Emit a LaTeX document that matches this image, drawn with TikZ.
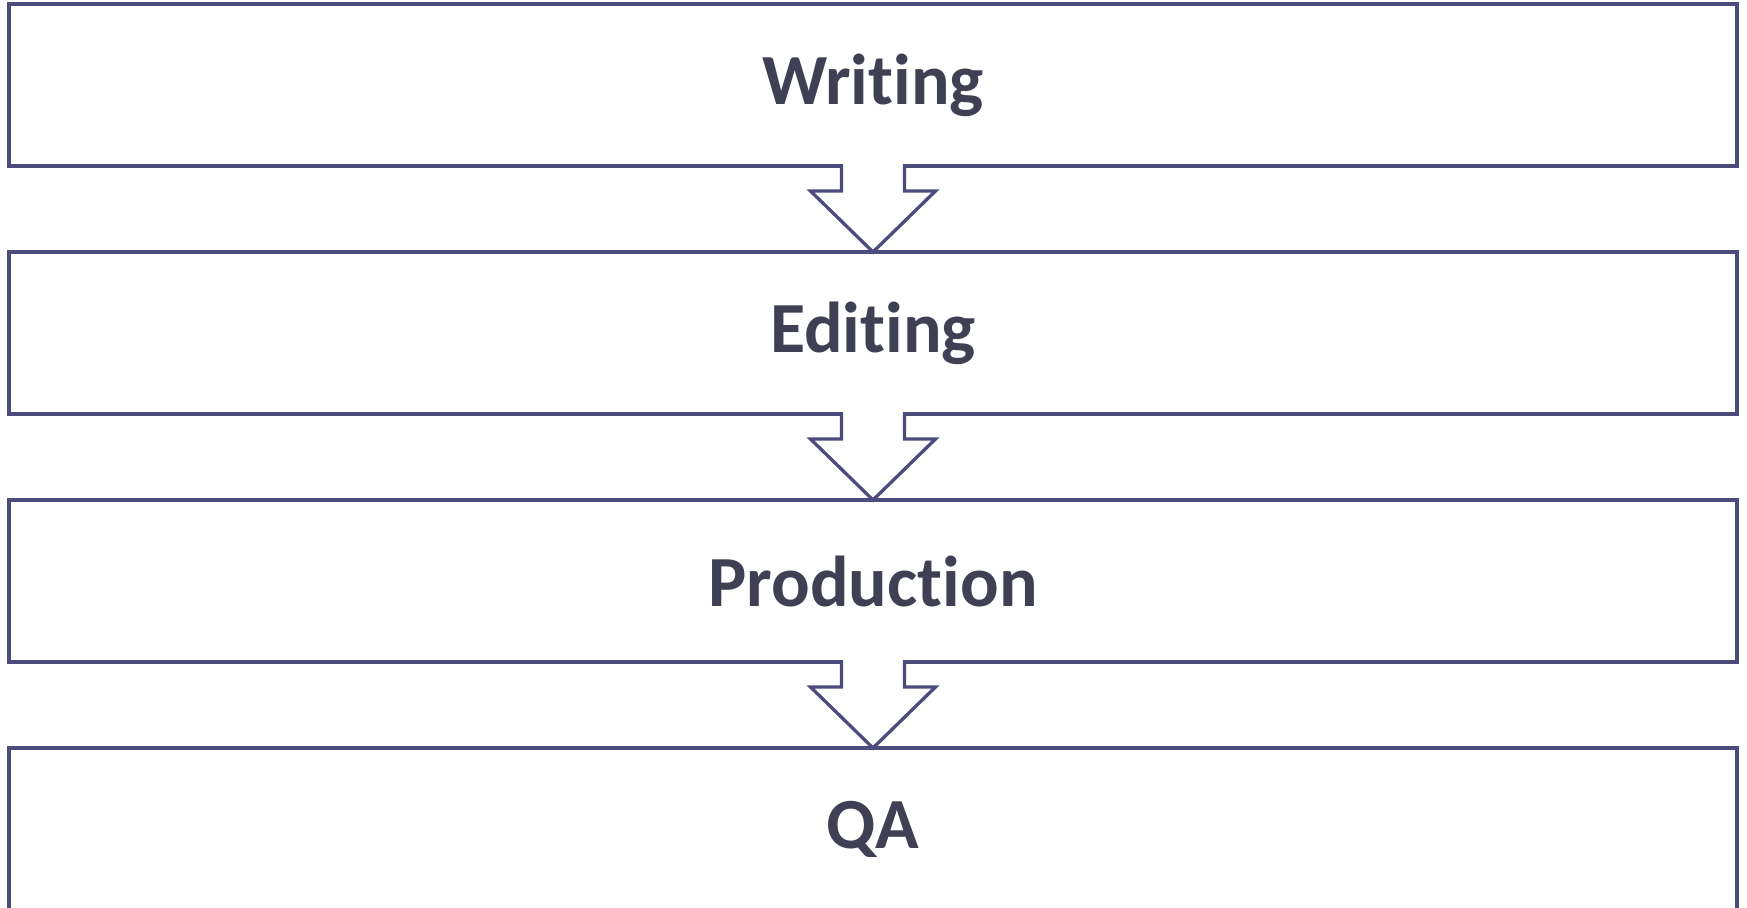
\documentclass[tikz,border=0pt]{standalone}
\usepackage{fontspec}
\setmainfont[RawFeature={-liga;-dlig;-clig}]{Carlito}
\usetikzlibrary{positioning,calc}
\definecolor{edgeblue}{RGB}{75,76,125}
\definecolor{txtgray}{RGB}{64,64,84}
\tikzset{
  stageblk/.style={draw=edgeblue,line width=3.3pt,rectangle,minimum width=1728pt,minimum height=162pt,
    outer sep=0pt,inner sep=0pt,font=\fontsize{72}{76}\selectfont\bfseries,text=txtgray},
  flowarr/.style={draw=edgeblue,line width=3.3pt,fill=white,line join=miter}
}
\begin{document}
\begin{tikzpicture}[x=1pt,y=1pt,node distance=86pt]
  \useasboundingbox (-873,85) rectangle (874,-822);
  % stages
  \node[stageblk] (wri) at (0,0) {Writing};
  \node[stageblk, below=of wri] (edi) {Editing};
  \node[stageblk, below=of edi] (pro) {Production};
  \node[stageblk, below=of pro] (qa) {QA};

  % block arrows between stages
  \draw[flowarr] ($(wri.south)+(-31.5,1.8)$) -- ++(0,-26.8) -- ($(wri.south)+(-62.5,-25)$) -- (edi.north)
    -- ($(wri.south)+(62.5,-25)$) -- ($(wri.south)+(31.5,-25)$) -- ++(0,26.8);
  \draw[flowarr] ($(edi.south)+(-31.5,1.8)$) -- ++(0,-26.8) -- ($(edi.south)+(-62.5,-25)$) -- (pro.north)
    -- ($(edi.south)+(62.5,-25)$) -- ($(edi.south)+(31.5,-25)$) -- ++(0,26.8);
  \draw[flowarr] ($(pro.south)+(-31.5,1.8)$) -- ++(0,-26.8) -- ($(pro.south)+(-62.5,-25)$) -- (qa.north)
    -- ($(pro.south)+(62.5,-25)$) -- ($(pro.south)+(31.5,-25)$) -- ++(0,26.8);
\end{tikzpicture}
\end{document}
